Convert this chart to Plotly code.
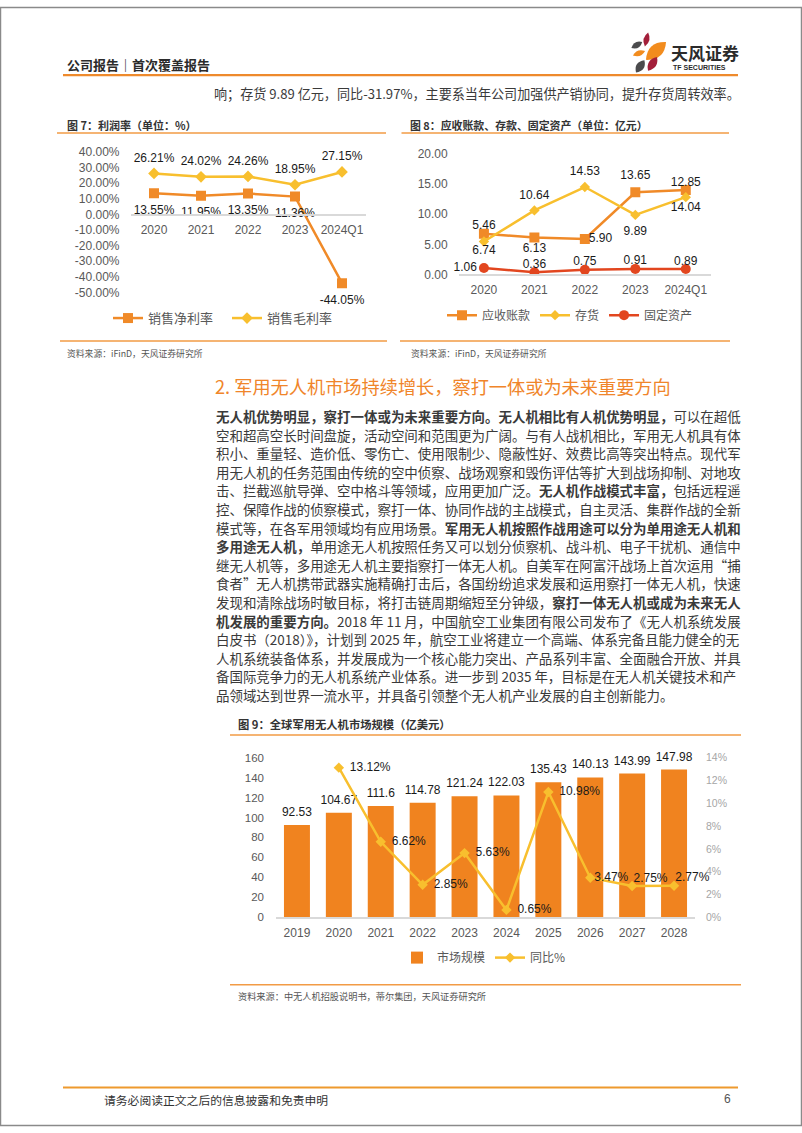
import plotly.graph_objects as go
import math

W, H = 802, 1133


def fx(p):
    return p / W


def fy(p):
    return 1 - p / H


CJK = "Noto Sans CJK SC"
NUM = "Liberation Sans, Arial, Noto Sans CJK SC"
ORANGE = "#F08A28"
YELLOW = "#F8BF2E"
RED = "#E2461F"
BAR = "#F0831F"
GRAY_T = "#595959"
LINE_OR = "#F29B45"

# ---------------- data: figure 7 (profit margins, %) ----------------
cat7 = ["2020", "2021", "2022", "2023", "2024Q1"]
net_margin = [13.55, 11.95, 13.35, 11.36, -44.05]
gross_margin = [26.21, 24.02, 24.26, 18.95, 27.15]
y7_ticks = [40, 30, 20, 10, 0, -10, -20, -30, -40, -50]
y7_ticktext = ["40.00%", "30.00%", "20.00%", "10.00%", "0.00%",
               "-10.00%", "-20.00%", "-30.00%", "-40.00%", "-50.00%"]

# ---------------- data: figure 8 (亿元) ----------------
cat8 = ["2020", "2021", "2022", "2023", "2024Q1"]
receivables = [6.74, 6.13, 5.90, 13.65, 14.04]
inventory = [5.46, 10.64, 14.53, 9.89, 12.85]
fixed_assets = [1.06, 0.36, 0.75, 0.91, 0.89]
y8_ticks = [0, 5, 10, 15, 20]
y8_ticktext = ["0.00", "5.00", "10.00", "15.00", "20.00"]

# ---------------- data: figure 9 (亿美元) ----------------
cat9 = ["2019", "2020", "2021", "2022", "2023", "2024", "2025", "2026", "2027", "2028"]
market = [92.53, 104.67, 111.6, 114.78, 121.24, 122.03, 135.43, 140.13, 143.99, 147.98]
yoy = [None, 13.12, 6.62, 2.85, 5.63, 0.65, 10.98, 3.47, 2.75, 2.77]
y9_ticks = [0, 20, 40, 60, 80, 100, 120, 140, 160]
y9r_ticks = [0, 2, 4, 6, 8, 10, 12, 14]
y9r_ticktext = ["0%", "2%", "4%", "6%", "8%", "10%", "12%", "14%"]

# ---------------- label placement (style only) ----------------
recv_pos = ["bottom center", "bottom center", "middle right", "top center", "bottom center"]
inv_pos = ["top center", "top center", "top center", "bottom center", "top center"]
fix_pos = ["middle left", "top center", "top center", "top center", "top center"]
recv_gap = [16.5, 6.9, 4.8, 14.9, 17.6]
inv_gap = [13, 12.3, 12.8, 15.7, 11.5]
fix_gap = [9.6, 0.8, 0.8, 0.8, 0.8]
yoy_pos = ["middle right"] * 8 + ["top right", "top right"]
yoy_gap = [16, 16, 16, 16, 16, 16, 16, 4.8, 0.5, 0.5]

# ---------------- text ----------------
header_text = "<b>公司报告｜首次覆盖报告</b>"
top_line = "响；存货 9.89 亿元，同比-31.97%，主要系当年公司加强供产销协同，提升存货周转效率。"
title7 = "<b>图 7：利润率（单位：%）</b>"
title8 = "<b>图 8：应收账款、存款、固定资产（单位：亿元）</b>"
title9 = "<b>图 9：全球军用无人机市场规模（亿美元）</b>"
source78 = "资料来源：iFinD，天风证券研究所"
source9 = "资料来源：中无人机招股说明书，蒂尔集团，天风证券研究所"
section_title = "2. 军用无人机市场持续增长，察打一体或为未来重要方向"
body_lines = [
    "<b>无人机优势明显，察打一体或为未来重要方向。无人机相比有人机优势明显，</b>可以在超低",
    "空和超高空长时间盘旋，活动空间和范围更为广阔。与有人战机相比，军用无人机具有体",
    "积小、重量轻、造价低、零伤亡、使用限制少、隐蔽性好、效费比高等突出特点。现代军",
    "用无人机的任务范围由传统的空中侦察、战场观察和毁伤评估等扩大到战场抑制、对地攻",
    "击、拦截巡航导弹、空中格斗等领域，应用更加广泛。<b>无人机作战模式丰富，</b>包括远程遥",
    "控、保障作战的侦察模式，察打一体、协同作战的主战模式，自主灵活、集群作战的全新",
    "模式等，在各军用领域均有应用场景。<b>军用无人机按照作战用途可以分为单用途无人机和</b>",
    "<b>多用途无人机，</b>单用途无人机按照任务又可以划分侦察机、战斗机、电子干扰机、通信中",
    "继无人机等，多用途无人机主要指察打一体无人机。自美军在阿富汗战场上首次运用“捕",
    "食者”无人机携带武器实施精确打击后，各国纷纷追求发展和运用察打一体无人机，快速",
    "发现和清除战场时敏目标，将打击链周期缩短至分钟级，<b>察打一体无人机或成为未来无人</b>",
    "<b>机发展的重要方向。</b>2018 年 11 月，中国航空工业集团有限公司发布了《无人机系统发展",
    "白皮书（2018）》，计划到 2025 年，航空工业将建立一个高端、体系完备且能力健全的无",
    "人机系统装备体系，并发展成为一个核心能力突出、产品系列丰富、全面融合开放、并具",
    "备国际竞争力的无人机系统产业体系。进一步到 2035 年，目标是在无人机关键技术和产",
    "品领域达到世界一流水平，并具备引领整个无人机产业发展的自主创新能力。",
]
footer_text = "请务必阅读正文之后的信息披露和免责申明"
page_no = "6"

# ---------------- layout geometry ----------------
c7x = [fx(130.5), fx(365.5)]
c7y = [fy(289), fy(146.7)]
c8x = [fx(458.7), fx(711)]
c8y = [fy(270.7), fy(149)]
c9x = [fx(276), fx(695)]
c9y = [fy(921.7), fy(760)]
zero7 = c7y[0] + (0 - (-50)) / 90 * (c7y[1] - c7y[0])

fig = go.Figure()
LBL = dict(family=NUM, size=12, color="#1a1a1a")
CLEAR = "rgba(0,0,0,0)"


def ghost(size):
    # invisible marker used only to offset a data label from its point
    return dict(size=size, color=CLEAR, line=dict(width=0, color=CLEAR))


# ---- figure 7 traces
fig.add_trace(go.Scatter(
    x=cat7, y=net_margin, name="销售净利率", mode="lines+markers",
    line=dict(color=ORANGE, width=2.5),
    marker=dict(symbol="square", size=10, color=ORANGE),
    xaxis="x", yaxis="y", legend="legend", hoverinfo="skip"))
fig.add_trace(go.Scatter(
    x=cat7, y=gross_margin, name="销售毛利率", mode="lines+markers",
    line=dict(color=YELLOW, width=2.5),
    marker=dict(symbol="diamond", size=9, color=YELLOW),
    xaxis="x", yaxis="y", legend="legend", hoverinfo="skip"))
fig.add_trace(go.Scatter(
    x=cat7, y=net_margin, mode="markers+text", showlegend=False,
    text=[f"{v:.2f}%" for v in net_margin], textposition="bottom center",
    marker=ghost(17), textfont=LBL,
    cliponaxis=False, xaxis="x", yaxis="y", hoverinfo="skip"))
fig.add_trace(go.Scatter(
    x=cat7, y=gross_margin, mode="markers+text", showlegend=False,
    text=[f"{v:.2f}%" for v in gross_margin], textposition="top center",
    marker=ghost(12), textfont=LBL,
    cliponaxis=False, xaxis="x", yaxis="y", hoverinfo="skip"))

# ---- figure 8 traces
series8 = [
    ("应收账款", receivables, ORANGE, "square", 10, recv_pos, recv_gap),
    ("存货", inventory, YELLOW, "diamond", 8, inv_pos, inv_gap),
    ("固定资产", fixed_assets, RED, "circle", 10, fix_pos, fix_gap),
]
for name, vals, col, sym, sz, pos, gap in series8:
    fig.add_trace(go.Scatter(
        x=cat8, y=vals, name=name, mode="lines+markers",
        line=dict(color=col, width=2.5),
        marker=dict(symbol=sym, size=sz, color=col),
        xaxis="x2", yaxis="y2", legend="legend2", hoverinfo="skip"))
for name, vals, col, sym, sz, pos, gap in series8:
    fig.add_trace(go.Scatter(
        x=cat8, y=vals, mode="markers+text", showlegend=False,
        text=[f"{v:.2f}" for v in vals], textposition=pos,
        marker=ghost(gap), textfont=LBL,
        cliponaxis=False, xaxis="x2", yaxis="y2", hoverinfo="skip"))

# ---- figure 9 traces
fig.add_trace(go.Bar(
    x=cat9, y=market, name="市场规模", marker=dict(color=BAR, line=dict(width=0)),
    width=0.62, xaxis="x3", yaxis="y3", legend="legend3", hoverinfo="skip"))
fig.add_trace(go.Scatter(
    x=cat9, y=market, mode="markers+text", showlegend=False,
    text=[f"{v:g}" for v in market], textposition="top center",
    marker=ghost(8), textfont=LBL,
    cliponaxis=False, xaxis="x3", yaxis="y3", hoverinfo="skip"))
fig.add_trace(go.Scatter(
    x=cat9, y=yoy, name="同比%", mode="lines+markers",
    line=dict(color=YELLOW, width=2.5),
    marker=dict(symbol="diamond", size=8, color=YELLOW),
    xaxis="x3", yaxis="y4", legend="legend3", hoverinfo="skip"))
fig.add_trace(go.Scatter(
    x=cat9, y=yoy, mode="markers+text", showlegend=False,
    text=[("" if v is None else f"{v:.2f}%") for v in yoy], textposition=yoy_pos,
    marker=ghost(yoy_gap), textfont=LBL,
    cliponaxis=False, xaxis="x3", yaxis="y4", hoverinfo="skip"))

axis_common = dict(showgrid=False, zeroline=False, ticks="", fixedrange=True)

fig.update_layout(
    width=W, height=H, margin=dict(l=0, r=0, t=0, b=0),
    paper_bgcolor="white", plot_bgcolor="rgba(0,0,0,0)",
    xaxis=dict(domain=c7x, anchor="free", position=zero7, showline=True,
               linecolor="#d9d9d9", linewidth=1.5, type="category",
               range=[-0.5, len(cat7) - 0.5],
               tickfont=dict(family=NUM, size=12, color=GRAY_T),
               ticklabelstandoff=4, **axis_common),
    yaxis=dict(domain=c7y, anchor="x", range=[-50, 40], tickvals=y7_ticks,
               ticktext=y7_ticktext, showline=False,
               tickfont=dict(family=NUM, size=12, color=GRAY_T),
               ticklabelstandoff=10, **axis_common),
    xaxis2=dict(domain=c8x, anchor="y2", showline=True, linecolor="#d9d9d9",
                linewidth=1.5, type="category", range=[-0.5, len(cat8) - 0.5],
                tickfont=dict(family=NUM, size=12, color=GRAY_T),
                ticklabelstandoff=4, **axis_common),
    yaxis2=dict(domain=c8y, anchor="x2", range=[0, 20], tickvals=y8_ticks,
                ticktext=y8_ticktext, showline=False,
                tickfont=dict(family=NUM, size=12, color=GRAY_T),
                ticklabelstandoff=10, **axis_common),
    xaxis3=dict(domain=c9x, anchor="y3", showline=True, linecolor="#d9d9d9",
                linewidth=1.5, type="category", range=[-0.5, len(cat9) - 0.5],
                tickfont=dict(family=NUM, size=12, color=GRAY_T),
                ticklabelstandoff=4, **axis_common),
    yaxis3=dict(domain=c9y, anchor="x3", range=[0, 160], tickvals=y9_ticks,
                showline=False, tickfont=dict(family=NUM, size=11.5, color=GRAY_T),
                ticklabelstandoff=11, **axis_common),
    yaxis4=dict(domain=c9y, anchor="x3", overlaying="y3", side="right",
                range=[0, 14], tickvals=y9r_ticks, ticktext=y9r_ticktext,
                showline=False, tickfont=dict(family=NUM, size=10.5, color="#a6a6a6"),
                ticklabelstandoff=10, **axis_common),
    legend=dict(orientation="h", x=fx(108), y=fy(315), xanchor="left", yanchor="middle",
                font=dict(family=CJK, size=13, color=GRAY_T), bgcolor="rgba(0,0,0,0)",
                itemwidth=30, entrywidth=74, itemclick=False, itemdoubleclick=False),
    legend2=dict(orientation="h", x=fx(442), y=fy(312), xanchor="left", yanchor="middle",
                 font=dict(family=CJK, size=12, color=GRAY_T), bgcolor="rgba(0,0,0,0)",
                 itemwidth=30, itemclick=False, itemdoubleclick=False),
    legend3=dict(orientation="h", x=fx(397), y=fy(962.5), xanchor="left", yanchor="middle",
                 font=dict(family=CJK, size=12, color=GRAY_T), bgcolor="rgba(0,0,0,0)",
                 itemwidth=30, itemclick=False, itemdoubleclick=False),
)

# ---------------- shapes ----------------
shapes = []


def hline(x0, x1, y, color=LINE_OR, width=1.5):
    shapes.append(dict(type="line", xref="paper", yref="paper",
                       x0=fx(x0), x1=fx(x1), y0=fy(y), y1=fy(y),
                       line=dict(color=color, width=width)))


# page frame
shapes.append(dict(type="rect", xref="paper", yref="paper", x0=0.0006, x1=0.9994,
                   y0=0.0005, y1=0.9995, line=dict(color="#8a8a8a", width=1.5)))
hline(63, 738, 69, color="#EE8A2C", width=2.2)          # header rule
hline(57, 386, 127.5)                                    # under title 7
hline(401.5, 729, 127.5)                                 # under title 8
hline(60, 387, 338.3)                                    # chart 7 bottom rule
hline(400, 730, 338.3)                                   # chart 8 bottom rule
hline(230, 741, 737)                                     # under title 9
hline(230, 741, 990)                                     # chart 9 bottom rule
hline(63, 738, 1094, color="#EE9A2E", width=2.2)        # footer rule


def leaf(cx, cy, length, thick, ang, color):
    a = math.radians(ang)
    ux, uy = math.cos(a), math.sin(a)
    nx, ny = -uy, ux
    t1 = (cx + ux * length / 2, cy + uy * length / 2)
    t2 = (cx - ux * length / 2, cy - uy * length / 2)
    c1 = (cx + nx * thick, cy + ny * thick)
    c2 = (cx - nx * thick, cy - ny * thick)

    def P(p):
        return f"{fx(p[0]):.5f},{fy(p[1]):.5f}"
    path = f"M{P(t2)} Q{P(c1)} {P(t1)} Q{P(c2)} {P(t2)} Z"
    shapes.append(dict(type="path", xref="paper", yref="paper", path=path,
                       fillcolor=color, line=dict(width=0)))


LOGO_GRAY, LOGO_RED, LOGO_OR = "#4b4b4d", "#A31F3A", "#F28C1E"
leaf(636.8, 38.5, 12.5, 6, -30, LOGO_GRAY)
leaf(646.5, 33, 14.5, 6, -77, LOGO_RED)
leaf(656, 44.5, 27, 13, -42, LOGO_OR)
leaf(639, 46.8, 13, 5.5, -20, LOGO_OR)
leaf(640.2, 60.2, 15, 8, -56, LOGO_GRAY)
leaf(652.5, 57.5, 16.5, 8, -57, LOGO_RED)

fig.update_layout(shapes=shapes)

# ---------------- annotations (text) ----------------
ann = []


def text(x, y, s, size, color="#333333", family=CJK, xanchor="left"):
    ann.append(dict(x=fx(x), y=fy(y), xref="paper", yref="paper", text=s,
                    showarrow=False, xanchor=xanchor, yanchor="middle",
                    font=dict(family=family, size=size, color=color)))


text(65, 58.5, header_text, 13, "#2b2b2b")
text(669, 46.5, "<b>天风证券</b>", 17, "#2b2b2b")
text(671, 61.3, "<b>TF SECURITIES</b>", 7, "#2b2b2b",
     family="Liberation Sans Narrow, Liberation Sans")
text(212, 88, top_line, 13.1, "#3a3a3a")
text(65, 119, title7, 11, "#333333")
text(408, 119, title8, 10.9, "#333333")
text(65, 350.5, source78, 8.8, "#555555")
text(409, 350.5, source78, 8.8, "#555555")
text(213, 383.5, section_title, 18.2, "#F0852A")
for i, line in enumerate(body_lines):
    text(213.5, 414.3 + i * 18.81, line, 13.46, "#3a3a3a")
text(236, 726, title9, 11.3, "#333333")
text(236, 1001.7, source9, 9.2, "#555555")
text(102, 1106, footer_text, 11.8, "#333333")
text(733, 1106, page_no, 12, "#555555", family=NUM, xanchor="right")

fig.update_layout(annotations=ann)

fig.write_html("out.html",
               config={"displayModeBar": False, "staticPlot": True},
               post_script="document.body.style.margin='0px';"
                           "document.body.style.overflow='hidden';")
